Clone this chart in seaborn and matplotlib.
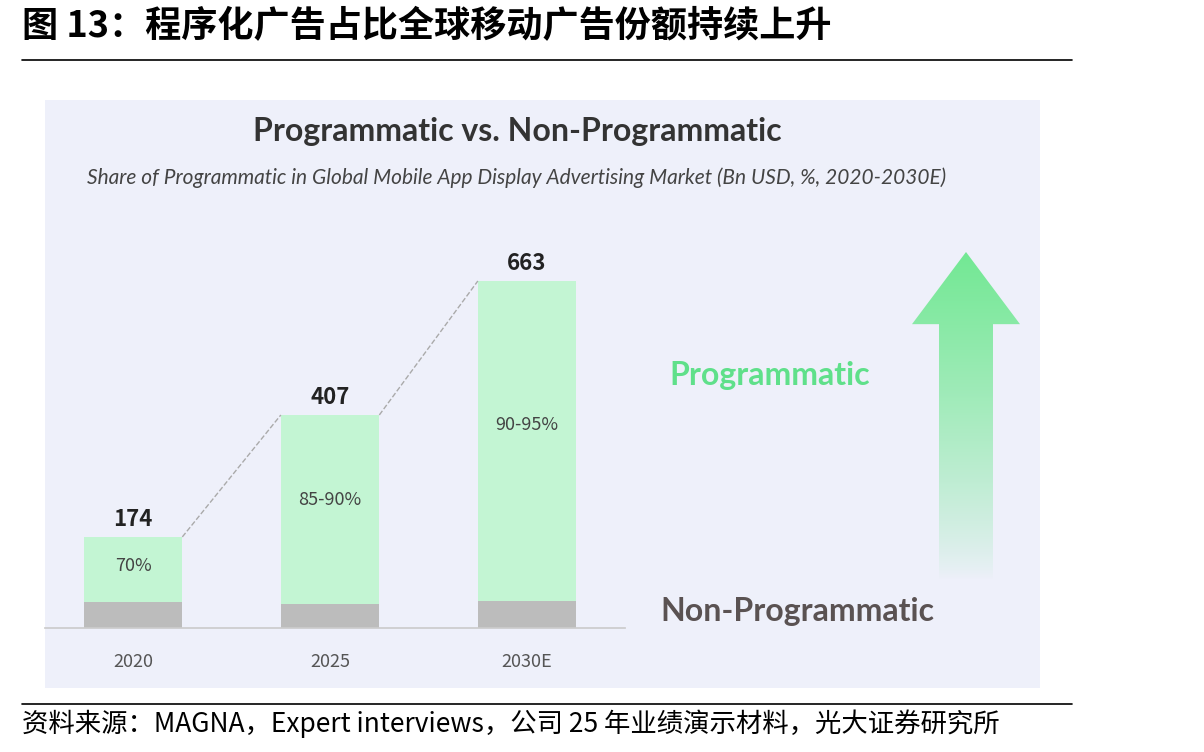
import numpy as np
import pandas as pd
import matplotlib
matplotlib.use("Agg")
import matplotlib.pyplot as plt
from matplotlib.patches import Rectangle, Polygon
from matplotlib.lines import Line2D
import seaborn as sns

years = ["2020", "2025", "2030E"]
totals = [174, 407, 663]
non_prog = [50, 46, 52]
shares = ["70%", "85-90%", "90-95%"]

sns.set_theme(style="white")
plt.rcParams['font.family'] = ['Noto Sans CJK SC', 'DejaVu Sans']

W, H = 1204, 752
fig = plt.figure(figsize=(W / 100, H / 100), dpi=100)

def fx(px):
    return px / W

def fy(py):
    return 1 - py / H

# headline and rules
fig.text(fx(22), fy(27), "图 13：程序化广告占比全球移动广告份额持续上升", fontsize=26,
         fontweight="bold", va="center", ha="left", color="black")
fig.add_artist(Line2D([fx(22), fx(1072)], [fy(60), fy(60)], color="black", lw=1.2))
fig.add_artist(Line2D([fx(22), fx(1072)], [fy(704), fy(704)], color="black", lw=1.2))
fig.text(fx(22), fy(724), "资料来源：MAGNA，Expert interviews，公司 25 年业绩演示材料，光大证券研究所",
         fontsize=19, va="center", ha="left", color="black")

# panel background
fig.add_artist(Rectangle((fx(45), fy(688)), fx(1040 - 45), fy(100) - fy(688),
                         facecolor="#eef0fa", edgecolor="none", zorder=0))
fig.text(fx(517), fy(132), "Programmatic vs. Non-Programmatic", fontsize=23,
         fontweight="bold", ha="center", va="center", color="#333333", family=["Lato", "DejaVu Sans"])
fig.text(fx(517), fy(178), "Share of Programmatic in Global Mobile App Display Advertising Market (Bn USD, %, 2020-2030E)",
         fontsize=15, style="italic", ha="center", va="center", color="#444444", family=["Lato", "DejaVu Sans"])

# bar axes
top_px, base_px = 240, 628
ax = fig.add_axes([fx(45), fy(base_px), fx(625 - 45), fy(top_px) - fy(base_px)])
ax.set_facecolor("none")
df = pd.DataFrame({"year": years, "total": totals, "non": non_prog})
sns.barplot(data=df, x="year", y="total", color="#c3f5d3", width=0.5, saturation=1,
            linewidth=0, ax=ax)
sns.barplot(data=df, x="year", y="non", color="#bcbcbc", width=0.5, saturation=1,
            linewidth=0, ax=ax)
ax.set_xlim(-0.447, 2.497)
ax.set_ylim(0, 663 * (base_px - top_px) / (base_px - 281))
for s in ["top", "right", "left"]:
    ax.spines[s].set_visible(False)
ax.spines["bottom"].set_color("#cccccc")
ax.set_yticks([])
ax.set_xlabel("")
ax.set_ylabel("")
ax.tick_params(axis="x", length=0, pad=18, labelsize=13, labelcolor="#555555")
for i, (t, n, s) in enumerate(zip(totals, non_prog, shares)):
    ax.text(i, t + 12, str(t), ha="center", va="bottom", fontsize=16, fontweight="bold", color="#222222")
    ax.text(i, n + (t - n) * 0.55, s, ha="center", va="center", fontsize=13, color="#444444")
    if i < len(totals) - 1:
        ax.plot([i + 0.25, i + 0.75], [t, totals[i + 1]], ls="--", color="#aaaaaa", lw=1)

# legend-like labels
fig.text(fx(770), fy(375), "Programmatic", fontsize=23, fontweight="bold", color="#5fe08a",
         ha="center", va="center", family=["Lato", "DejaVu Sans"])
fig.text(fx(797), fy(612), "Non-Programmatic", fontsize=23, fontweight="bold", color="#5a5252",
         ha="center", va="center", family=["Lato", "DejaVu Sans"])

# gradient arrow
ax2 = fig.add_axes([fx(912), fy(580), fx(1020 - 912), fy(252) - fy(580)])
ax2.set_xlim(0, 1)
ax2.set_ylim(0, 1)
ax2.axis("off")
grad = np.zeros((200, 2, 4))
grad[..., 0] = 0.45
grad[..., 1] = 0.91
grad[..., 2] = 0.58
grad[..., 3] = np.linspace(1, 0, 200)[:, None] ** 0.8
im = ax2.imshow(grad, extent=[0, 1, 0, 1], origin="upper", aspect="auto")
arrow = Polygon([(0.5, 1), (1, 0.78), (0.75, 0.78), (0.75, 0), (0.25, 0), (0.25, 0.78), (0, 0.78)],
                closed=True, facecolor="none", edgecolor="none", transform=ax2.transData)
ax2.add_patch(arrow)
im.set_clip_path(arrow)

fig.savefig("out.png", dpi=100)
